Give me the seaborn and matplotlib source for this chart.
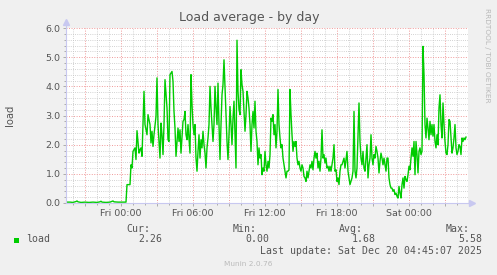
import matplotlib
matplotlib.use("Agg")
import matplotlib.pyplot as plt
import seaborn as sns
import pandas as pd
import numpy as np

# ---- data: minutes relative to Fri 00:00, load average ----
minutes_early = [-270, -255, -240, -225, -220, -215, -200, -180, -160, -140,
                 -120, -105, -100, -95, -75, -55, -40, -35, -15, 5,
                 25, 30, 45, 50, 55, 60, 70, 75, 80, 90,
                 95, 100, 105, 115, 120, 130, 135, 145, 150, 155,
                 160, 165, 175, 180, 185, 195, 200, 205, 210, 215,
                 220, 230, 235, 240, 245, 255, 260, 265, 270, 275,
                 285, 290, 295, 300, 310, 315, 320, 325, 330, 335]
load_early = [0.03, 0.03, 0.02, 0.05, 0.07, 0.04, 0.02, 0.03, 0.02, 0.03,
              0.02, 0.04, 0.06, 0.03, 0.02, 0.03, 0.07, 0.04, 0.03, 0.03,
              0.03, 0.63, 0.63, 1.31, 1.20, 1.77, 1.89, 1.49, 2.48, 1.71,
              1.83, 1.89, 1.60, 3.83, 2.69, 2.34, 3.03, 2.69, 2.06, 2.46,
              1.94, 2.34, 2.97, 4.29, 2.69, 1.54, 2.74, 2.34, 1.66, 2.69,
              4.23, 3.26, 2.17, 2.11, 4.40, 4.51, 4.17, 3.14, 2.57, 1.60,
              2.57, 2.11, 2.51, 1.71, 2.80, 2.86, 3.14, 2.34, 2.17, 2.69]

# regular 5-minute samples from Fri 04:45 to Sat 04:45
load_late = [
    1.71, 4.40, 3.37, 2.69, 2.34, 2.69, 1.54, 1.09, 1.77, 2.34,
    1.54, 2.17, 1.89, 2.46, 2.00, 1.71, 1.20, 1.89, 2.23, 2.69,
    4.00, 3.26, 2.69, 2.11, 2.69, 4.00, 3.26, 2.69, 4.11, 2.69,
    1.49, 2.69, 3.71, 4.06, 4.91, 4.00, 3.14, 2.11, 1.49, 2.34,
    3.31, 2.69, 2.00, 2.91, 3.49, 2.34, 1.20, 5.58, 3.83, 3.20,
    3.03, 4.57, 4.06, 3.83, 3.14, 2.46, 3.03, 3.83, 3.60, 3.26,
    2.69, 1.77, 2.69, 3.14, 2.57, 3.49, 2.46, 2.11, 1.31, 1.89,
    1.54, 1.66, 0.97, 1.20, 1.09, 1.77, 1.31, 1.09, 1.43, 1.20,
    1.66, 2.91, 2.80, 3.03, 2.34, 2.69, 1.89, 2.46, 3.89, 2.69,
    2.23, 1.89, 2.00, 1.54, 1.31, 1.09, 0.86, 1.09, 1.09, 1.14,
    3.89, 3.03, 2.34, 1.77, 2.11, 1.94, 2.11, 1.54, 1.31, 1.43,
    1.20, 1.09, 1.31, 1.20, 0.91, 0.86, 0.74, 1.09, 0.86, 1.09,
    1.31, 1.20, 1.43, 1.14, 1.54, 1.77, 1.54, 1.71, 1.20, 1.43,
    1.09, 1.54, 2.51, 1.54, 1.66, 1.37, 1.54, 1.20, 1.26, 1.09,
    1.26, 1.09, 1.31, 1.54, 2.00, 1.09, 1.14, 0.74, 0.86, 0.63,
    1.09, 1.31, 1.31, 1.43, 1.54, 1.20, 1.49, 1.77, 1.09, 0.86,
    0.63, 0.74, 0.86, 1.09, 3.14, 1.09, 0.86, 1.20, 2.34, 3.43,
    2.11, 1.54, 1.31, 1.77, 1.20, 1.09, 1.54, 2.00, 0.86, 1.31,
    1.54, 2.34, 1.54, 1.31, 1.66, 1.54, 1.94, 1.77, 1.54, 1.03,
    1.43, 1.71, 1.54, 1.31, 1.54, 1.31, 1.09, 1.54, 1.54, 0.86,
    0.63, 0.51, 0.51, 0.40, 0.46, 0.29, 0.34, 0.23, 0.17, 0.57,
    0.34, 0.17, 0.63, 0.86, 0.51, 0.91, 0.80, 0.74, 0.97, 1.26,
    1.14, 1.54, 1.89, 1.60, 2.11, 0.97, 2.11, 1.66, 1.03, 1.77,
    1.89, 1.66, 1.77, 5.37, 4.40, 2.69, 2.23, 2.91, 2.57, 2.17,
    2.80, 2.34, 2.69, 2.29, 2.69, 2.11, 1.89, 2.34, 2.00, 3.26,
    3.71, 2.69, 2.23, 3.43, 2.69, 2.11, 1.71, 1.66, 2.00, 2.86,
    2.80, 2.23, 1.71, 1.89, 2.23, 2.69, 1.89, 1.66, 1.77, 2.00,
    1.94, 1.66, 2.23, 2.11, 2.23, 2.17, 2.26]
minutes_late = list(range(345, 345 + 5 * len(load_late), 5))

tick_hours = [0, 6, 12, 18, 24]
tick_labels = ["Fri 00:00", "Fri 06:00", "Fri 12:00", "Fri 18:00", "Sat 00:00"]
y_ticks = [0, 1, 2, 3, 4, 5, 6]

legend_name = "load"
stat_names = ["Cur:", "Min:", "Avg:", "Max:"]
stat_values = ["2.26", "0.00", "1.68", "5.58"]
last_update = "Last update: Sat Dec 20 04:45:07 2025"

df = pd.DataFrame({
    "hours": [m / 60 for m in minutes_early + minutes_late],
    "load": load_early + load_late,
})

# ---- figure ----
W, H = 497, 275
fig = plt.figure(figsize=(W / 100, H / 100), dpi=100, facecolor="#F0F0F0")
L, R, T, B = 66, 468, 28, 203
ax = fig.add_axes([L / W, 1 - B / H, (R - L) / W, (B - T) / H])
ax.set_facecolor("white")

minor_c = "#C4C4C4"
major_c = "#F09A9A"
dot = (0, (1, 1.6))

ax.set_xlim((L - 121) / 12, (R - 121) / 12)
ax.set_ylim(0, 6)

ax.set_xticks(np.arange(-3, 29, 3), minor=False)
ax.set_xticks(np.arange(-4, 29, 1), minor=True)
ax.set_yticks(y_ticks)
ax.set_yticks(np.arange(0, 6.01, 0.2), minor=True)
ax.grid(which="minor", color=minor_c, linestyle=dot, linewidth=0.6)
ax.grid(which="major", color=major_c, linestyle=dot, linewidth=0.7)
ax.set_axisbelow(True)

lbls = []
for t in np.arange(-3, 29, 3):
    lbls.append(tick_labels[tick_hours.index(t)] if t in tick_hours else "")
ax.set_xticklabels(lbls)
ax.set_yticklabels([f"{v:.1f}" for v in y_ticks])
ax.tick_params(axis="both", which="both", labelsize=6.8, labelcolor="#555555",
               colors="#A0A0A0", length=2, width=0.6, pad=2)
ax.tick_params(axis="both", which="minor", length=1.5)
ax.tick_params(axis="both", which="major", labelcolor="#555555")

sns.lineplot(data=df, x="hours", y="load", color="#00CC00", linewidth=1.0,
             ax=ax, estimator=None)
ax.set_xlabel("")
ax.set_ylabel("")

for s in ["top", "right"]:
    ax.spines[s].set_visible(False)
for s in ["left", "bottom"]:
    ax.spines[s].set_color("#C8C8F0")
    ax.spines[s].set_linewidth(0.8)

# axis arrows
ax.plot([0], [1.035], marker="^", color="#C8C8F0", markersize=4,
        transform=ax.transAxes, clip_on=False)
ax.plot([0, 0], [1.0, 1.03], color="#C8C8F0", lw=0.8, transform=ax.transAxes, clip_on=False)
ax.plot([1.0, 1.008], [0, 0], color="#C8C8F0", lw=0.8, transform=ax.transAxes, clip_on=False)
ax.plot([1.01], [0], marker=">", color="#C8C8F0", markersize=4,
        transform=ax.transAxes, clip_on=False)

def px(x, y):
    return x / W, 1 - y / H

fig.text(*px(249, 18), "Load average - by day", ha="center", va="center",
         fontsize=9, color="#555555")
fig.text(*px(10, 115), "load", ha="center", va="center", rotation=90,
         fontsize=7.2, color="#555555")
fig.text(*px(487, 8), "RRDTOOL / TOBI OETIKER", ha="center", va="top",
         rotation=270, fontsize=5.3, color="#B8B8B8")

mono = "DejaVu Sans Mono"
stat_right = [150, 257, 363, 470]
val_right = [162, 269, 376, 482]
for name, xr in zip(stat_names, stat_right):
    fig.text(*px(xr, 228.5), name, ha="right", va="center", fontsize=7.1,
             family=mono, color="#555555")
for v, xr in zip(stat_values, val_right):
    fig.text(*px(xr, 239.5), v, ha="right", va="center", fontsize=7.1,
             family=mono, color="#555555")
fig.patches.append(plt.Rectangle(px(14, 242.5), 5 / W, 5 / H, transform=fig.transFigure,
                                 facecolor="#00CC00", edgecolor="none"))
fig.text(*px(26, 239.5), legend_name, ha="left", va="center", fontsize=7.1,
         family=mono, color="#555555")
fig.text(*px(482, 251), last_update, ha="right", va="center", fontsize=7.1,
         family=mono, color="#555555")
fig.text(*px(248, 264.5), "Munin 2.0.76", ha="center", va="center",
         fontsize=5.3, color="#BBBBBB")

fig.savefig("out.png", dpi=100, facecolor=fig.get_facecolor())
